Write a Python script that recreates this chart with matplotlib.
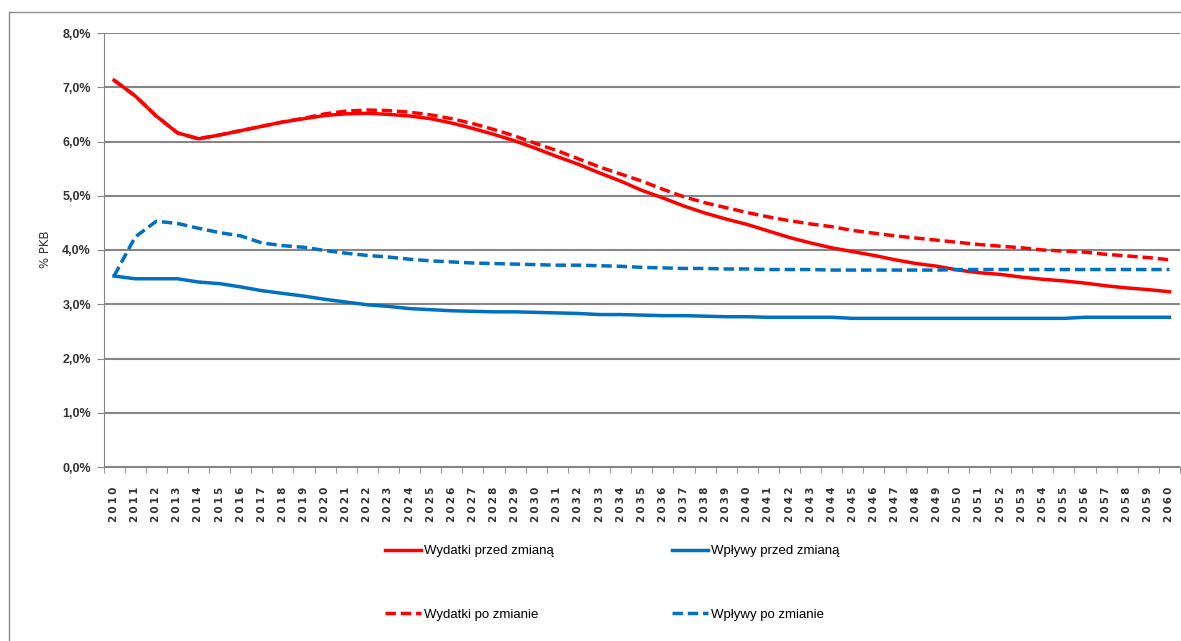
import numpy as np
import matplotlib.pyplot as plt
from matplotlib.patches import Rectangle
from matplotlib.ticker import FuncFormatter

plt.rcParams['font.family'] = ['Liberation Sans Narrow', 'Liberation Sans', 'DejaVu Sans']

# lata prognozy
years = list(range(2010, 2061))

# wydatki przed zmiana, % PKB
wydatki_przed = [7.13, 6.84, 6.47, 6.16, 6.05, 6.12, 6.20, 6.28, 6.36, 6.42,
                 6.48, 6.51, 6.52, 6.50, 6.47, 6.42, 6.34, 6.24, 6.13, 6.01,
                 5.87, 5.72, 5.58, 5.42, 5.27, 5.10, 4.96, 4.81, 4.68, 4.57,
                 4.47, 4.35, 4.23, 4.13, 4.04, 3.97, 3.90, 3.82, 3.75, 3.70,
                 3.63, 3.58, 3.55, 3.50, 3.46, 3.43, 3.39, 3.34, 3.30, 3.27,
                 3.23]

# wplywy przed zmiana
wplywy_przed = [3.52, 3.47, 3.47, 3.47, 3.41, 3.38, 3.32, 3.25, 3.20, 3.15,
                3.09, 3.04, 2.99, 2.96, 2.92, 2.90, 2.88, 2.87, 2.86, 2.86,
                2.85, 2.84, 2.83, 2.81, 2.81, 2.80, 2.79, 2.79, 2.78, 2.77,
                2.77, 2.76, 2.76, 2.76, 2.76, 2.74, 2.74, 2.74, 2.74, 2.74,
                2.74, 2.74, 2.74, 2.74, 2.74, 2.74, 2.76, 2.76, 2.76, 2.76,
                2.76]

# wydatki po zmianie
wydatki_po = [7.13, 6.84, 6.47, 6.16, 6.05, 6.12, 6.20, 6.28, 6.36, 6.43,
              6.51, 6.56, 6.58, 6.57, 6.54, 6.49, 6.42, 6.33, 6.22, 6.10,
              5.96, 5.83, 5.68, 5.53, 5.40, 5.27, 5.12, 4.98, 4.87, 4.78,
              4.69, 4.61, 4.54, 4.48, 4.43, 4.36, 4.31, 4.26, 4.22, 4.18,
              4.14, 4.10, 4.07, 4.04, 4.00, 3.98, 3.96, 3.92, 3.89, 3.86,
              3.82]

# wplywy po zmianie
wplywy_po = [3.52, 4.24, 4.53, 4.49, 4.40, 4.32, 4.26, 4.13, 4.08, 4.05,
             3.99, 3.94, 3.90, 3.87, 3.83, 3.80, 3.78, 3.76, 3.75, 3.74,
             3.73, 3.72, 3.72, 3.71, 3.70, 3.68, 3.67, 3.66, 3.66, 3.65,
             3.65, 3.64, 3.64, 3.64, 3.63, 3.63, 3.63, 3.63, 3.63, 3.63,
             3.64, 3.64, 3.64, 3.64, 3.64, 3.64, 3.64, 3.64, 3.64, 3.64,
             3.64]

RED = '#ff0000'
BLUE = '#0070c0'
GRID = '#868686'

fig = plt.figure(figsize=(11.81, 6.41), dpi=100)
W, H = 1181, 641

# ramka wykresu
fig.patches.append(Rectangle((9 / W, -0.05), 1.1, 1 - 12 / H + 0.05,
                             transform=fig.transFigure, fill=False,
                             edgecolor='#8c8c8c', linewidth=1.0))

ax = fig.add_axes([103.5 / W, 1 - 467 / H, (1180 - 103.5) / W, (467 - 33) / H])

x = np.arange(len(years))
dash = (0, (3, 1.4))
l1, = ax.plot(x, wydatki_przed, color=RED, lw=2.5)
l2, = ax.plot(x, wplywy_przed, color=BLUE, lw=2.5)
l3, = ax.plot(x, wydatki_po, color=RED, lw=2.5, ls=dash)
l4, = ax.plot(x, wplywy_po, color=BLUE, lw=2.5, ls=dash)

ax.set_xlim(-0.5, len(years) - 0.5)
ax.set_ylim(0, 8)
ax.set_yticks(np.arange(0, 9, 1))
ax.yaxis.set_major_formatter(FuncFormatter(lambda v, p: f'{v:.1f}%'.replace('.', ',')))
ax.grid(axis='y', color=GRID, lw=1.5)
ax.set_axisbelow(True)

ax.set_xticks(x)
ax.set_xticklabels(['\u2009'.join(str(y)) for y in years], rotation=90,
                   fontsize=7.5, fontweight='bold', color='#333333',
                   family=['DejaVu Sans'])
ax.set_xticks(np.arange(-0.5, len(years)), minor=True)
ax.tick_params(axis='x', which='major', length=0, pad=14)
ax.tick_params(axis='x', which='minor', length=4, color=GRID, direction='out')
ax.tick_params(axis='y', length=5, color=GRID, labelsize=9, pad=4)
for lab in ax.get_yticklabels():
    lab.set_fontweight('bold')
    lab.set_color('#333333')

for s in ['top', 'right']:
    ax.spines[s].set_visible(False)
ax.spines['left'].set_color(GRID)
ax.spines['bottom'].set_color(GRID)

fig.text(45 / W, 1 - 249 / H, '% PKB', rotation=90, ha='center', va='center',
         fontsize=8.5, color='#333333', family=['DejaVu Sans'])

# legenda w dwoch kolumnach
leg_kw = dict(loc='upper left', frameon=False, fontsize=9.5, handlelength=2.7,
              handletextpad=0.25, labelspacing=3.9, borderpad=0, borderaxespad=0)
leg1 = fig.legend([l1, l3], ['Wydatki przed zmianą', 'Wydatki po zmianie'],
                  bbox_to_anchor=(385 / W, 1 - 545 / H), **leg_kw)
leg2 = fig.legend([l2, l4], ['Wpływy przed zmianą', 'Wpływy po zmianie'],
                  bbox_to_anchor=(672 / W, 1 - 545 / H), **leg_kw)

fig.savefig('out.png', dpi=100)
